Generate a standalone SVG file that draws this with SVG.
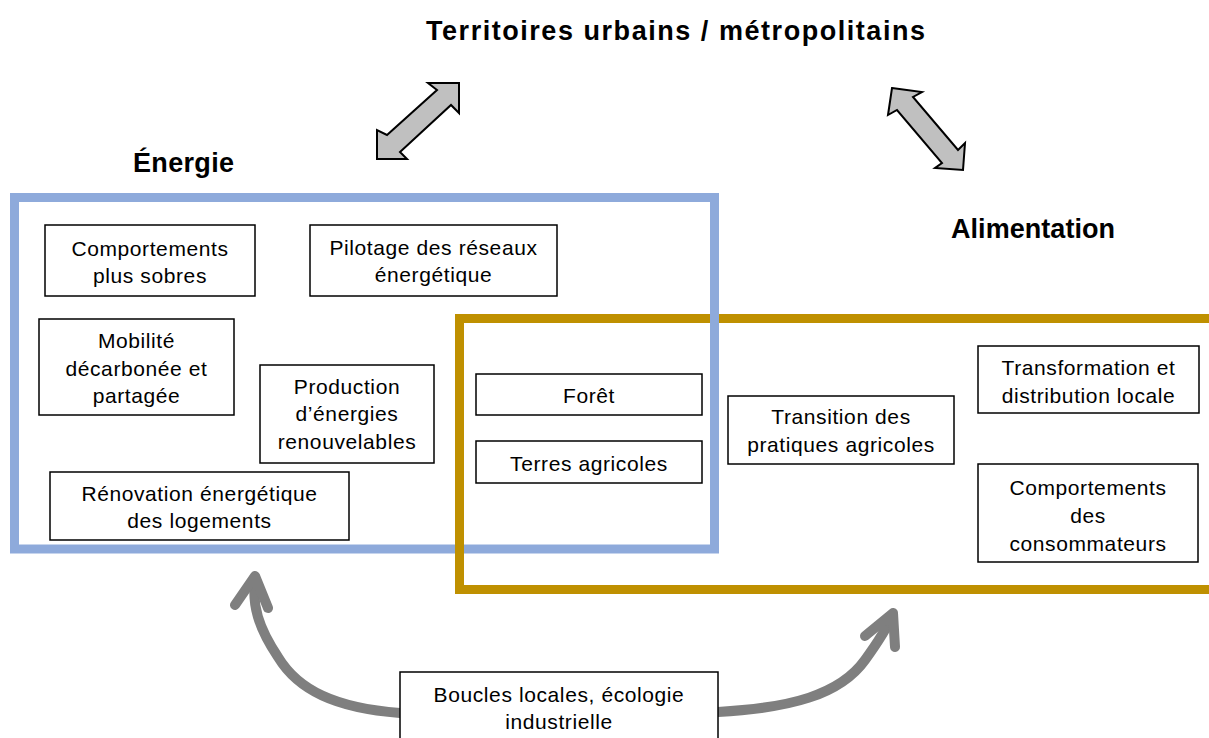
<svg xmlns="http://www.w3.org/2000/svg" width="1209" height="738" viewBox="0 0 1209 738">
<style>
.box{fill:#fff;stroke:#000;stroke-width:1.5}
.t{font-family:"Liberation Sans",Arial,sans-serif;font-size:21px;letter-spacing:0.6px;text-anchor:middle;fill:#000}
.h{font-family:"Liberation Sans",Arial,sans-serif;font-size:27px;font-weight:bold;fill:#000}
.dbl{fill:#c0c0c0;stroke:#000;stroke-width:2;stroke-linejoin:miter}
.curve{fill:none;stroke:#7f7f7f;stroke-width:10;stroke-linecap:round;stroke-linejoin:round}
</style>
<rect width="1209" height="738" fill="#fff"/>
<g id="frames">
<rect x="14.5" y="197.5" width="700" height="351.5" fill="none" stroke="#8eaadb" stroke-width="9"/>
<path d="M1220,318.5 H459.5 V589.5 H1220" fill="none" stroke="#bf9000" stroke-width="9"/>
<line x1="714.5" y1="305" x2="714.5" y2="335" stroke="#8eaadb" stroke-width="9"/>
</g>
<g id="labels">
<text class="h" x="426" y="40" font-size="28" textLength="499" lengthAdjust="spacing">Territoires urbains / métropolitains</text>
<text class="h" x="133" y="172" textLength="101" lengthAdjust="spacing">Énergie</text>
<text class="h" x="951" y="238" textLength="164" lengthAdjust="spacing">Alimentation</text>
</g>
<g id="connectors">
<polygon class="dbl" points="459,83 459,113 451,105 400,152 407,159 377,159 377,130 387,135 437,90 428,83"/>
<polygon class="dbl" points="892,88 922,92 913,97 958,150 965,143 963,170 935,168 942,163 897,110 888,115"/>
<path class="curve" d="M400,713 C335,708 298,690 278,657 C258,627 252,605 255,580"/>
<path class="curve" d="M235,605 L255,576 L268,608"/>
<path class="curve" d="M718,712 C790,708 840,695 865,660 C878,642 887,628 892,616"/>
<path class="curve" d="M865,636 L893,613 L895,647"/>
</g>
<g id="n1"><rect class="box" x="45" y="225" width="210" height="71"/>
<text class="t" x="150" y="256">Comportements</text><text class="t" x="150" y="283">plus sobres</text></g>
<g id="n2"><rect class="box" x="310" y="225" width="247" height="71"/>
<text class="t" x="433.5" y="255">Pilotage des réseaux</text><text class="t" x="433.5" y="282">énergétique</text></g>
<g id="n3"><rect class="box" x="39" y="319" width="195" height="96"/>
<text class="t" x="136.5" y="348">Mobilité</text><text class="t" x="136.5" y="376">décarbonée et</text><text class="t" x="136.5" y="403">partagée</text></g>
<g id="n4"><rect class="box" x="260" y="365" width="174" height="98"/>
<text class="t" x="347" y="394">Production</text><text class="t" x="347" y="421">d’énergies</text><text class="t" x="347" y="449">renouvelables</text></g>
<g id="n5"><rect class="box" x="50" y="472" width="299" height="68"/>
<text class="t" x="199.5" y="501">Rénovation énergétique</text><text class="t" x="199.5" y="528">des logements</text></g>
<g id="n6"><rect class="box" x="476" y="374" width="226" height="41"/>
<text class="t" x="589" y="403">Forêt</text></g>
<g id="n7"><rect class="box" x="476" y="441" width="226" height="42"/>
<text class="t" x="589" y="471">Terres agricoles</text></g>
<g id="n8"><rect class="box" x="728" y="396" width="226" height="68"/>
<text class="t" x="841" y="424">Transition des</text><text class="t" x="841" y="452">pratiques agricoles</text></g>
<g id="n9"><rect class="box" x="978" y="346" width="221" height="67"/>
<text class="t" x="1088.5" y="375">Transformation et</text><text class="t" x="1088.5" y="403">distribution locale</text></g>
<g id="n10"><rect class="box" x="978" y="464" width="220" height="98"/>
<text class="t" x="1088" y="495">Comportements</text><text class="t" x="1088" y="523">des</text><text class="t" x="1088" y="551">consommateurs</text></g>
<g id="n11"><rect class="box" x="400" y="672" width="318" height="75"/>
<text class="t" x="559" y="702">Boucles locales, écologie</text><text class="t" x="559" y="729">industrielle</text></g>
</svg>
